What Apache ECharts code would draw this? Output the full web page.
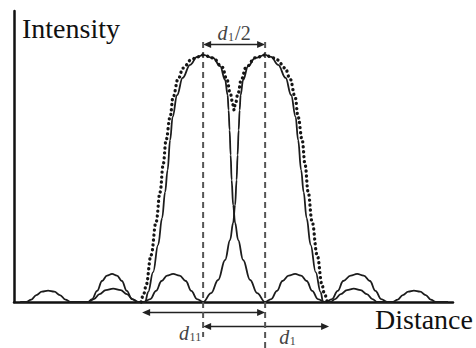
<!DOCTYPE html>
<html><head><meta charset="utf-8">
<script src="https://cdn.jsdelivr.net/npm/echarts@6/dist/echarts.min.js"></script>
<style>html,body{margin:0;padding:0;background:#fff}#c{width:476px;height:348px}</style>
</head><body><div id="c"></div>
<script>
// Distance in units of the peak separation (d1/2 = 1), intensity normalised to the peak (=1)
const peakCenters = [-0.5, 0.5];
const peak1 = [
  [-3.45,0],[-3.35,0],[-3.27,0.01],[-3.19,0.028],[-3.1,0.042],[-3.0,0.046],[-2.9,0.042],[-2.81,0.028],[-2.72,0.01],[-2.64,0],
  [-2.36,0],[-2.29,0.012],[-2.21,0.045],[-2.13,0.085],[-2.05,0.107],[-1.968,0.114],[-1.89,0.107],[-1.81,0.085],[-1.73,0.045],[-1.65,0.012],[-1.55,0],
  [-1.435,0],[-1.387,0.04],[-1.306,0.121],[-1.226,0.231],[-1.161,0.34],[-1.113,0.445],[-1.073,0.534],[-1.032,0.656],
  [-0.992,0.749],[-0.919,0.838],[-0.831,0.907],[-0.71,0.96],[-0.597,0.992],[-0.5,1],[-0.339,0.988],[-0.226,0.955],
  [-0.145,0.899],[-0.105,0.838],[-0.089,0.777],[-0.073,0.696],[-0.056,0.595],[-0.04,0.494],[-0.016,0.393],[0.016,0.32],
  [0.065,0.251],[0.145,0.17],[0.258,0.089],[0.371,0.036],[0.5,0],
  [0.6,0.012],[0.69,0.045],[0.78,0.085],[0.88,0.107],[0.984,0.114],[1.08,0.107],[1.17,0.085],[1.26,0.045],[1.35,0.012],[1.46,0],
  [1.55,0],[1.63,0.012],[1.72,0.032],[1.82,0.048],[1.93,0.054],[2.04,0.048],[2.14,0.032],[2.23,0.012],[2.31,0],[2.45,0]
];
const peak2 = [
  [-2.613,0],[-2.35,0],[-2.26,0.012],[-2.17,0.032],[-2.07,0.048],[-1.95,0.054],[-1.83,0.048],[-1.73,0.032],[-1.64,0.012],[-1.55,0],
  [-1.46,0],[-1.35,0.012],[-1.26,0.045],[-1.17,0.085],[-1.08,0.107],[-0.984,0.114],[-0.88,0.107],[-0.78,0.085],[-0.69,0.045],[-0.6,0.012],[-0.5,0],
  [-0.371,0.036],[-0.258,0.089],[-0.145,0.17],[-0.065,0.251],[-0.016,0.32],[0.016,0.393],[0.04,0.494],[0.056,0.595],
  [0.073,0.696],[0.089,0.777],[0.105,0.838],[0.145,0.899],[0.226,0.955],[0.339,0.988],[0.5,1],[0.597,0.992],[0.71,0.96],
  [0.831,0.907],[0.919,0.838],[0.992,0.749],[1.032,0.656],[1.081,0.534],[1.121,0.445],[1.169,0.34],[1.234,0.231],
  [1.315,0.121],[1.395,0.04],[1.435,0],
  [1.48,0],[1.58,0.012],[1.67,0.045],[1.76,0.085],[1.88,0.107],[1.984,0.114],[2.09,0.107],[2.19,0.085],[2.28,0.045],[2.37,0.012],[2.47,0],
  [2.56,0],[2.64,0.01],[2.72,0.028],[2.81,0.042],[2.9,0.046],[3.0,0.042],[3.09,0.028],[3.17,0.01],[3.25,0],[3.45,0]
];
const sumCurve = [
  [-1.5,0],[-1.452,0.036],[-1.419,0.069],[-1.339,0.19],[-1.258,0.324],[-1.194,0.445],[-1.145,0.555],[-1.097,0.656],
  [-1.032,0.749],[-0.984,0.83],[-0.903,0.903],[-0.823,0.947],[-0.694,0.98],[-0.597,0.992],[-0.5,1],[-0.339,0.988],
  [-0.194,0.951],[-0.113,0.899],[-0.065,0.846],[-0.016,0.798],[0,0.777],[0.016,0.798],[0.065,0.846],[0.113,0.899],
  [0.194,0.951],[0.339,0.988],[0.5,1],[0.597,0.992],[0.694,0.98],[0.823,0.947],[0.903,0.903],[0.984,0.83],[1.032,0.749],
  [1.097,0.656],[1.145,0.555],[1.194,0.445],[1.258,0.324],[1.339,0.19],[1.419,0.069],[1.452,0.036],[1.5,0]
];
// Guide lines (dashed) through peak centres: top and bottom extents (intensity units)
const guideTop = 1.053;
const guideBottoms = [-0.142, -0.186];
// Dimension arrows: [from x, to x, at intensity]
const arrows = [
  [-0.5, 0.5, 1.045],
  [-1.484, 0.5, -0.04],
  [-0.5, 1.532, -0.097]
];
// Annotation labels: [x, intensity, subscript, tail]
const labels = [
  [0, 1.089, '1', '/2'],
  [-0.71, -0.125, '11', ''],
  [0.855, -0.142, '1', '']
];
const X_MIN = -3.55, X_MAX = 3.53, Y_MAX = 1.178;

const chart = echarts.init(document.getElementById('c'), null, {renderer: 'svg'});
const serif = '"Liberation Serif","Times New Roman",serif';
const curveStyle = {color: '#1c1c1c', width: 1.8};
const base = {type: 'line', showSymbol: false, symbol: 'none', clip: false, silent: true,
  smooth: 0.4, smoothMonotone: 'x'};
chart.setOption({
  animation: false,
  grid: {left: 14, right: 23, top: 11, bottom: 46},
  xAxis: {type: 'value', min: X_MIN, max: X_MAX,
    axisLine: {show: true, onZero: false, lineStyle: {color: '#111', width: 2.5}},
    axisTick: {show: false}, axisLabel: {show: false}, splitLine: {show: false}},
  yAxis: {type: 'value', min: 0, max: Y_MAX,
    axisLine: {show: true, onZero: false, lineStyle: {color: '#111', width: 2.5}},
    axisTick: {show: false}, axisLabel: {show: false}, splitLine: {show: false}},
  series: [
    Object.assign({}, base, {data: peak1, lineStyle: curveStyle}),
    Object.assign({}, base, {data: peak2, lineStyle: curveStyle}),
    Object.assign({}, base, {smooth: false,
      data: [[peakCenters[0], guideTop], [peakCenters[0], guideBottoms[0]]],
      lineStyle: {color: '#555', width: 2, type: [6, 4]}}),
    Object.assign({}, base, {smooth: false,
      data: [[peakCenters[1], guideTop], [peakCenters[1], guideBottoms[1]]],
      lineStyle: {color: '#555', width: 2, type: [6, 4]}}),
    Object.assign({}, base, {data: sumCurve,
      lineStyle: {color: '#151515', width: 3.3, type: [0.1, 4.8], cap: 'round'}})
  ]
});

const g = [];
g.push({type: 'text', x: 22, y: 28, style: {text: 'Intensity', font: '28px ' + serif, fill: '#111', verticalAlign: 'middle'}});
g.push({type: 'text', x: 375, y: 319, style: {text: 'Distance', font: '28px ' + serif, fill: '#111', verticalAlign: 'middle'}});
arrows.forEach(a => {
  const p1 = chart.convertToPixel({gridIndex: 0}, [a[0], a[2]]);
  const p2 = chart.convertToPixel({gridIndex: 0}, [a[1], a[2]]);
  const y = Math.round(p1[1]) + 0.5, hl = 8, hw = 3.5;
  g.push({type: 'line', shape: {x1: p1[0] + 4, y1: y, x2: p2[0] - 4, y2: y}, style: {stroke: '#222', lineWidth: 1.6}});
  g.push({type: 'polygon', shape: {points: [[p1[0], y], [p1[0] + hl, y - hw], [p1[0] + hl, y + hw]]}, style: {fill: '#222'}});
  g.push({type: 'polygon', shape: {points: [[p2[0], y], [p2[0] - hl, y - hw], [p2[0] - hl, y + hw]]}, style: {fill: '#222'}});
});
labels.forEach(l => {
  const p = chart.convertToPixel({gridIndex: 0}, [l[0], l[1]]);
  const wD = 10, wS = l[2].length * 6, wT = l[3] ? 17 : 0;
  const x = p[0] - (wD + wS + wT) / 2;
  g.push({type: 'text', x: x, y: p[1], style: {text: 'd', font: 'italic 20px ' + serif, fill: '#444', verticalAlign: 'middle'}});
  g.push({type: 'text', x: x + wD + 0.5, y: p[1] + 4, style: {text: l[2], font: '12px ' + serif, fill: '#444', verticalAlign: 'middle'}});
  if (l[3]) g.push({type: 'text', x: x + wD + wS + 1.5, y: p[1], style: {text: l[3], font: '20px ' + serif, fill: '#444', verticalAlign: 'middle'}});
});
chart.setOption({graphic: g});
</script></body></html>
